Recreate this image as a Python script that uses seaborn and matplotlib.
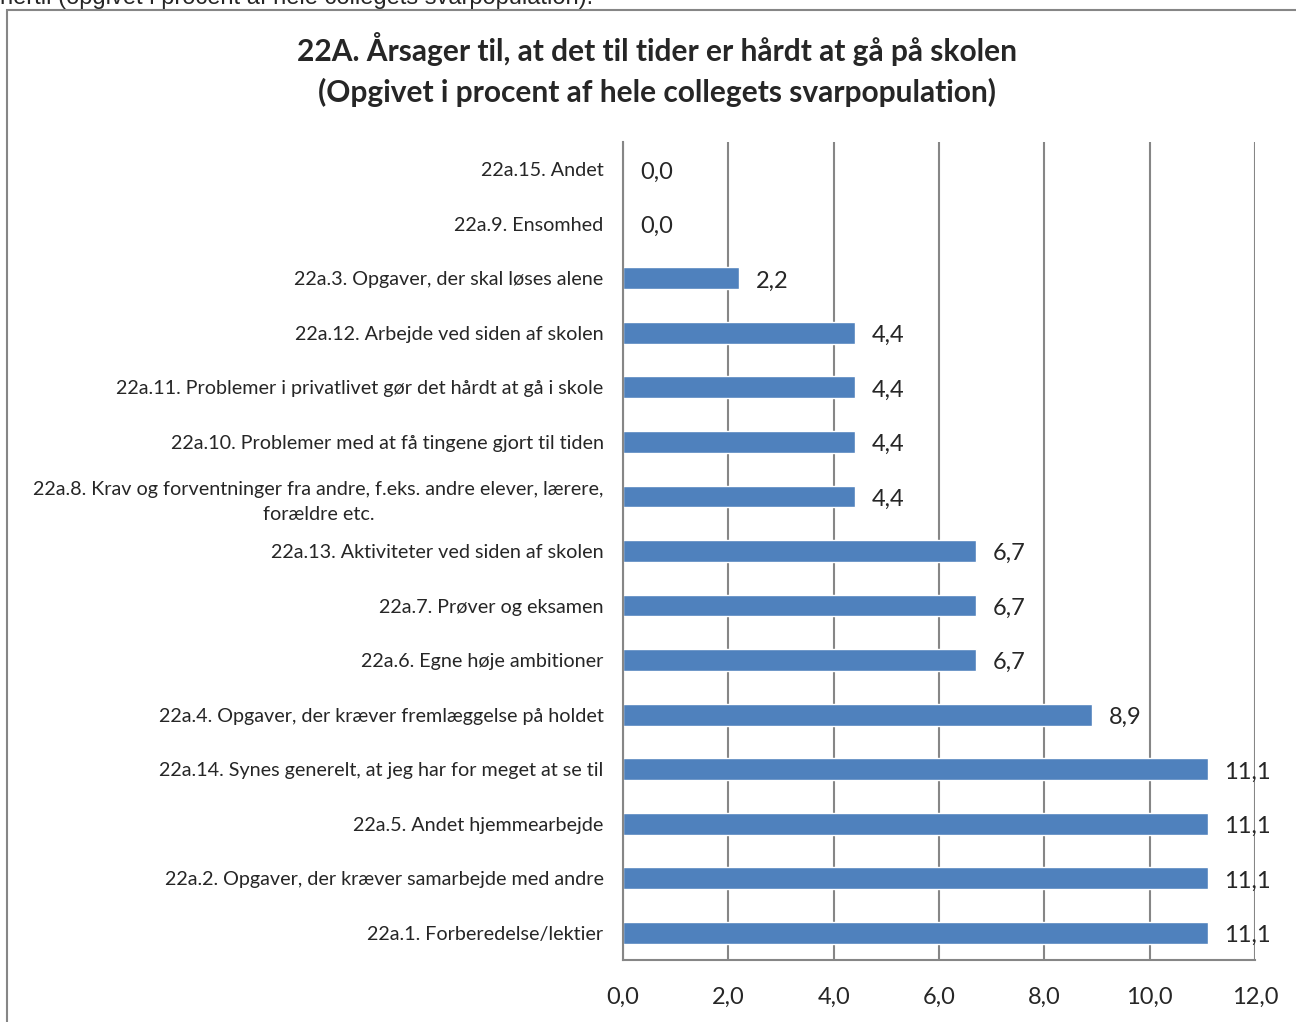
import pandas as pd
import matplotlib
matplotlib.use("Agg")
import matplotlib.pyplot as plt
import matplotlib.patches as patches
from matplotlib.ticker import FixedLocator
import seaborn as sns

# data (top to bottom, as shown)
categories = [
    "22a.15. Andet",
    "22a.9. Ensomhed",
    "22a.3. Opgaver, der skal løses alene",
    "22a.12. Arbejde ved siden af skolen",
    "22a.11. Problemer i privatlivet gør det hårdt at gå i skole",
    "22a.10. Problemer med at få tingene gjort til tiden",
    "22a.8. Krav og forventninger fra andre, f.eks. andre elever, lærere,\nforældre etc.",
    "22a.13. Aktiviteter ved siden af skolen",
    "22a.7. Prøver og eksamen",
    "22a.6. Egne høje ambitioner",
    "22a.4. Opgaver, der kræver fremlæggelse på holdet",
    "22a.14. Synes generelt, at jeg har for meget at se til",
    "22a.5. Andet hjemmearbejde",
    "22a.2. Opgaver, der kræver samarbejde med andre",
    "22a.1. Forberedelse/lektier",
]
values = [0.0, 0.0, 2.2, 4.4, 4.4, 4.4, 4.4, 6.7, 6.7, 6.7, 8.9, 11.1, 11.1, 11.1, 11.1]
xticks = [0, 2, 4, 6, 8, 10, 12]
xtick_labels = ["0,0", "2,0", "4,0", "6,0", "8,0", "10,0", "12,0"]

title = ("22A. Årsager til, at det til tider er hårdt at gå på skolen\n"
         "(Opgivet i procent af hele collegets svarpopulation)")
top_text = "hertil (opgivet i procent af hele collegets svarpopulation)."

df = pd.DataFrame({"kategori": categories, "procent": values})

sns.set_style("white")
plt.rcParams["font.family"] = ["Lato", "DejaVu Sans"]

W, H = 1296, 1022
fig = plt.figure(figsize=(W / 100, H / 100), dpi=100)
ax = fig.add_axes([623 / W, 62 / H, (1255 - 623) / W, (960 - 142) / H])

sns.barplot(data=df, x="procent", y="kategori", orient="h", color="#4F81BD",
            saturation=1, width=0.4, ax=ax)

ax.set_xlim(0, 12)
ax.set_ylim(len(categories) - 0.5, -0.5)
ax.set_xlabel("")
ax.set_ylabel("")

grid_c = "#868686"
ax.xaxis.set_major_locator(FixedLocator(xticks))
ax.set_xticklabels(xtick_labels, fontsize=17)
ax.grid(axis="x", color=grid_c, linewidth=1.5)
ax.set_axisbelow(True)
for s in ["top", "right"]:
    ax.spines[s].set_visible(False)
for s in ["left", "bottom"]:
    ax.spines[s].set_color(grid_c)
    ax.spines[s].set_linewidth(1.5)

ax.tick_params(axis="x", direction="out", length=6, width=1.5, color=grid_c, pad=13)
# y: labels at category centre, tick marks at boundaries
ax.tick_params(axis="y", which="major", length=0, pad=14, labelsize=14.2)
ax.yaxis.set_minor_locator(FixedLocator([i - 0.5 for i in range(len(categories) + 1)]))
ax.tick_params(axis="y", which="minor", direction="out", length=6, width=1.5, color=grid_c)
for lab in ax.get_yticklabels():
    lab.set_multialignment("center")
    lab.set_linespacing(1.55)

for i, v in enumerate(values):
    ax.text(v + 0.32, i + 0.05, f"{v:.1f}".replace(".", ","), va="center", ha="left", fontsize=17)

fig.suptitle(title, x=657 / W, y=1 - 32 / H, va="top", fontsize=21.5, fontweight="bold",
             linespacing=1.5)

fig.text(0, 1 - 4 / H, top_text, family="Liberation Sans", fontsize=17, va="baseline", ha="left")
fig.patches.append(patches.Rectangle((7 / W, -0.1), 1.0, 1.1 - 10 / H, transform=fig.transFigure,
                                     fill=False, edgecolor=grid_c, linewidth=1.5))

fig.savefig("out.png", dpi=100)
